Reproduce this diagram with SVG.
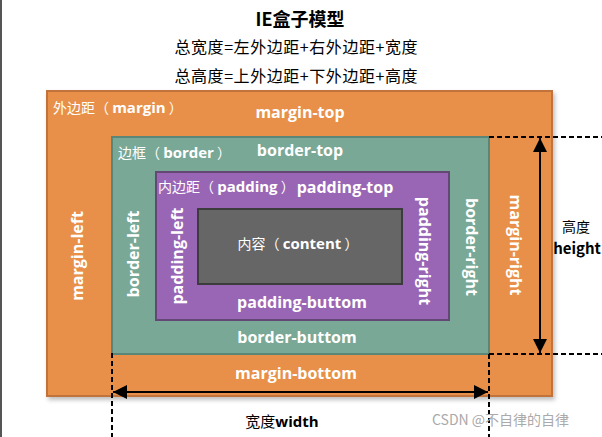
<svg xmlns="http://www.w3.org/2000/svg" width="602" height="437" viewBox="0 0 602 437">
<defs>
<style>
.t{font-family:"Noto Sans CJK SC","Open Sans",sans-serif;fill:#000}
.w{font-family:"Open Sans","Noto Sans CJK SC",sans-serif;font-weight:bold;font-size:16px;fill:#fff}
.lb{font-family:"Noto Sans CJK SC",sans-serif;font-size:14px;fill:#fff}
.lb tspan.e{font-family:"Open Sans",sans-serif;font-weight:bold;font-size:15px}
.dash{stroke:#000;stroke-width:2;stroke-dasharray:5 3;fill:none}
.arr{stroke:#000;stroke-width:2;fill:none;marker-start:url(#ah);marker-end:url(#ah)}
</style>
<marker id="ah" markerUnits="userSpaceOnUse" markerWidth="16" markerHeight="16" refX="14" refY="7" orient="auto-start-reverse">
<path d="M0,0 L14,7 L0,14 Z" fill="#000"/>
</marker>
<filter id="sh" x="-5%" y="-5%" width="112%" height="115%">
<feDropShadow dx="2" dy="3" stdDeviation="2" flood-color="#000" flood-opacity="0.25"/>
</filter>
</defs>
<rect x="0" y="0" width="602" height="437" fill="#fff"/>
<rect x="0" y="0" width="2" height="437" fill="#555"/>
<g id="title">
<text class="t" x="300" y="26" text-anchor="middle" font-size="18" font-weight="bold">IE盒子模型</text>
<text class="t" x="296" y="53" text-anchor="middle" font-size="16" textLength="243">总宽度=左外边距+右外边距+宽度</text>
<text class="t" x="296" y="82" text-anchor="middle" font-size="16" textLength="243">总高度=上外边距+下外边距+高度</text>
</g>
<g id="margin">
<rect x="47" y="91" width="505" height="305" fill="#E8904A" stroke="#C2733A" stroke-width="2" filter="url(#sh)"/>
<text class="lb" x="53" y="113" xml:space="preserve">外边距（ <tspan class="e">margin</tspan> ）</text>
<text class="w" x="300" y="118" text-anchor="middle">margin-top</text>
<text class="w" x="296" y="379" text-anchor="middle">margin-bottom</text>
<text class="w" transform="translate(83,256) rotate(-90)" text-anchor="middle">margin-left</text>
<text class="w" transform="translate(510,245) rotate(90)" text-anchor="middle">margin-right</text>
</g>
<g id="border">
<rect x="112" y="137" width="377" height="217" fill="#79A897" stroke="#5A8677" stroke-width="2"/>
<text class="lb" x="118" y="158" xml:space="preserve">边框（ <tspan class="e">border</tspan> ）</text>
<text class="w" x="300" y="156" text-anchor="middle">border-top</text>
<text class="w" x="297" y="343" text-anchor="middle">border-buttom</text>
<text class="w" transform="translate(139,254) rotate(-90)" text-anchor="middle">border-left</text>
<text class="w" transform="translate(466,247) rotate(90)" text-anchor="middle">border-right</text>
</g>
<g id="padding">
<rect x="156" y="172" width="293" height="148" fill="#9966B5" stroke="#634876" stroke-width="2"/>
<text class="lb" x="158" y="192" xml:space="preserve">内边距（ <tspan class="e">padding</tspan> ）</text>
<text class="w" x="345" y="193" text-anchor="middle">padding-top</text>
<text class="w" x="302" y="308" text-anchor="middle">padding-buttom</text>
<text class="w" transform="translate(183,256) rotate(-90)" text-anchor="middle">padding-left</text>
<text class="w" transform="translate(419,251) rotate(90)" text-anchor="middle">padding-right</text>
</g>
<g id="content">
<rect x="198" y="209" width="204" height="75" fill="#666666" stroke="#3C3C3C" stroke-width="2"/>
<text class="lb" x="298" y="249" text-anchor="middle" xml:space="preserve">内容（ <tspan class="e">content</tspan> ）</text>
</g>
<g id="connectors">
<line class="dash" x1="489" y1="137" x2="602" y2="137"/>
<line class="dash" x1="489" y1="354" x2="602" y2="354"/>
<line class="dash" x1="112" y1="353" x2="112" y2="437"/>
<line class="dash" x1="489" y1="354" x2="489" y2="437"/>
<line class="arr" x1="540" y1="138" x2="540" y2="353"/>
<line class="arr" x1="113" y1="392" x2="488" y2="392"/>
</g>
<g id="labels">
<text class="t" x="576" y="232" text-anchor="middle" font-size="14">高度</text>
<text class="t" x="577" y="254" text-anchor="middle" font-size="15" font-weight="bold" font-family="Open Sans, sans-serif">height</text>
<text class="t" x="282" y="427" text-anchor="middle" font-size="15">宽度<tspan font-family="Open Sans, sans-serif" font-weight="bold">width</tspan></text>
<text x="432" y="425" font-family="Noto Sans CJK SC, sans-serif" font-size="14" fill="#aaa">CSDN @不自律的自律</text>
</g>
</svg>
